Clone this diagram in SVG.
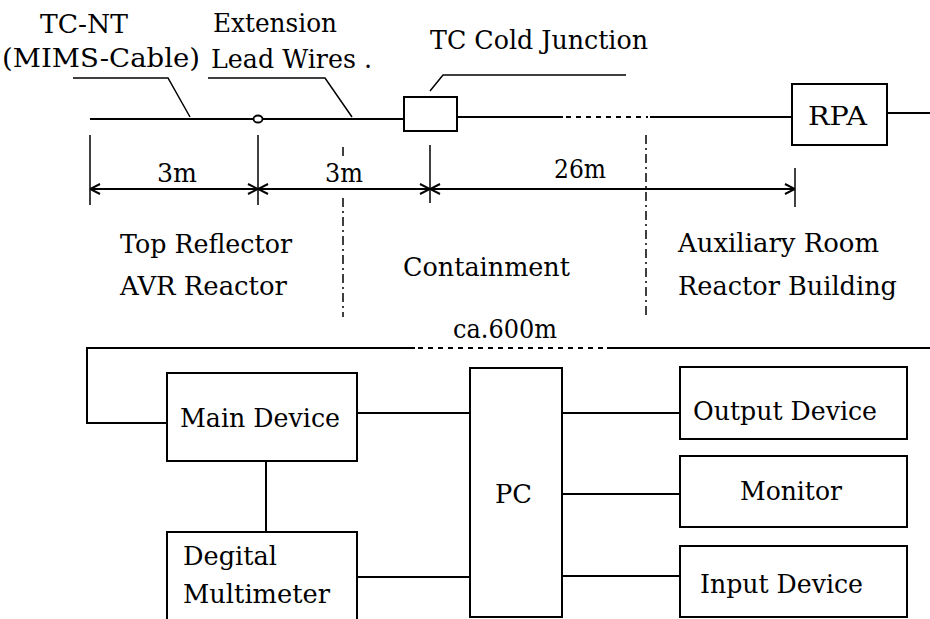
<svg xmlns="http://www.w3.org/2000/svg" width="930" height="619" viewBox="0 0 930 619">
<style>
text{font-family:"DejaVu Serif","Liberation Serif",serif;font-size:26px;fill:#000}
.box{fill:#fff;stroke:#000;stroke-width:2}
.ln{fill:none;stroke:#000;stroke-width:2}
.thin{fill:none;stroke:#000;stroke-width:1.5}
.dash{fill:none;stroke:#000;stroke-width:2;stroke-dasharray:5 5}
.dd{fill:none;stroke:#000;stroke-width:1.5;stroke-dasharray:9 4 2 4}
.dim{fill:none;stroke:#000;stroke-width:2;marker-start:url(#ah);marker-end:url(#ah)}
</style>
<defs>
<marker id="ah" viewBox="0 0 12 12" refX="12" refY="6" markerWidth="12" markerHeight="12" markerUnits="userSpaceOnUse" orient="auto-start-reverse">
<path d="M2,1 L12,6 L2,11" fill="none" stroke="#000" stroke-width="2"/>
</marker>
</defs>
<g id="connectors">
<line class="ln" x1="90" y1="119" x2="254" y2="119"/>
<line class="ln" x1="262" y1="119" x2="404" y2="119"/>
<line class="ln" x1="457" y1="117" x2="563" y2="117"/>
<line class="dash" x1="566" y1="117" x2="648" y2="117"/>
<line class="ln" x1="650" y1="117" x2="792" y2="117"/>
<line class="ln" x1="887" y1="113" x2="930" y2="113"/>
<polyline class="thin" points="73,78 168,78 190,117"/>
<polyline class="thin" points="208,78 325,78 352,117"/>
<polyline class="thin" points="430,91 443,75 626,75"/>
<line class="thin" x1="90" y1="135" x2="90" y2="205"/>
<line class="thin" x1="258" y1="135" x2="258" y2="205"/>
<line class="thin" x1="430" y1="145" x2="430" y2="203"/>
<line class="thin" x1="795" y1="168" x2="795" y2="207"/>
<line class="dim" x1="90" y1="189" x2="258" y2="189"/>
<line class="dim" x1="258" y1="189" x2="430" y2="189"/>
<line class="dim" x1="430" y1="189" x2="795" y2="189"/>
<line class="thin" x1="343" y1="147" x2="343" y2="156"/>
<line class="dd" x1="343" y1="198" x2="343" y2="317"/>
<line class="dd" x1="646" y1="135" x2="646" y2="318"/>
<polyline class="ln" points="415,348 87,348 87,423 167,423"/>
<line class="dash" x1="418" y1="348" x2="606" y2="348"/>
<line class="ln" x1="607" y1="348" x2="930" y2="348"/>
<line class="ln" x1="357" y1="413" x2="470" y2="413"/>
<line class="ln" x1="266" y1="461" x2="266" y2="532"/>
<line class="ln" x1="357" y1="577" x2="470" y2="577"/>
<line class="ln" x1="562" y1="413" x2="680" y2="413"/>
<line class="ln" x1="562" y1="494" x2="680" y2="494"/>
<line class="ln" x1="562" y1="576" x2="680" y2="576"/>
</g>
<g id="splice"><ellipse cx="258" cy="119" rx="4.5" ry="3.5" fill="#fff" stroke="#000" stroke-width="1.8"/></g>
<g id="cold-junction"><rect class="box" x="404" y="97" width="53" height="34"/></g>
<g id="rpa"><rect class="box" x="792" y="84" width="95" height="61"/><text x="808" y="125" textLength="59" lengthAdjust="spacingAndGlyphs">RPA</text></g>
<g id="labels">
<text x="40" y="33" textLength="88" lengthAdjust="spacingAndGlyphs">TC-NT</text>
<text x="2" y="67" textLength="198" lengthAdjust="spacingAndGlyphs">(MIMS-Cable)</text>
<text x="213" y="32" textLength="124" lengthAdjust="spacingAndGlyphs">Extension</text>
<text x="211" y="68" textLength="161" lengthAdjust="spacingAndGlyphs">Lead Wires .</text>
<text x="430" y="49" textLength="218" lengthAdjust="spacingAndGlyphs">TC Cold Junction</text>
<text x="157" y="182" textLength="40" lengthAdjust="spacingAndGlyphs">3m</text>
<text x="325" y="182" textLength="38" lengthAdjust="spacingAndGlyphs">3m</text>
<text x="554" y="178" textLength="52" lengthAdjust="spacingAndGlyphs">26m</text>
<text x="120" y="253" textLength="172" lengthAdjust="spacingAndGlyphs">Top Reflector</text>
<text x="120" y="295" textLength="167" lengthAdjust="spacingAndGlyphs">AVR Reactor</text>
<text x="403" y="276" textLength="167" lengthAdjust="spacingAndGlyphs">Containment</text>
<text x="678" y="252" textLength="201" lengthAdjust="spacingAndGlyphs">Auxiliary Room</text>
<text x="678" y="295" textLength="219" lengthAdjust="spacingAndGlyphs">Reactor Building</text>
<text x="453" y="338" textLength="104" lengthAdjust="spacingAndGlyphs">ca.600m</text>
</g>
<g id="main-device"><rect class="box" x="167" y="373" width="190" height="88"/><text x="180" y="427" textLength="160" lengthAdjust="spacingAndGlyphs">Main Device</text></g>
<g id="multimeter"><rect class="box" x="167" y="532" width="190" height="95"/><text x="183" y="565" textLength="94" lengthAdjust="spacingAndGlyphs">Degital</text><text x="183" y="603" textLength="147" lengthAdjust="spacingAndGlyphs">Multimeter</text></g>
<g id="pc"><rect class="box" x="470" y="368" width="92" height="249"/><text x="495" y="503" textLength="37" lengthAdjust="spacingAndGlyphs">PC</text></g>
<g id="output-device"><rect class="box" x="680" y="367" width="227" height="72"/><text x="693" y="420" textLength="184" lengthAdjust="spacingAndGlyphs">Output Device</text></g>
<g id="monitor"><rect class="box" x="680" y="456" width="227" height="71"/><text x="740" y="500" textLength="102" lengthAdjust="spacingAndGlyphs">Monitor</text></g>
<g id="input-device"><rect class="box" x="680" y="546" width="227" height="71"/><text x="700" y="593" textLength="163" lengthAdjust="spacingAndGlyphs">Input Device</text></g>
</svg>
